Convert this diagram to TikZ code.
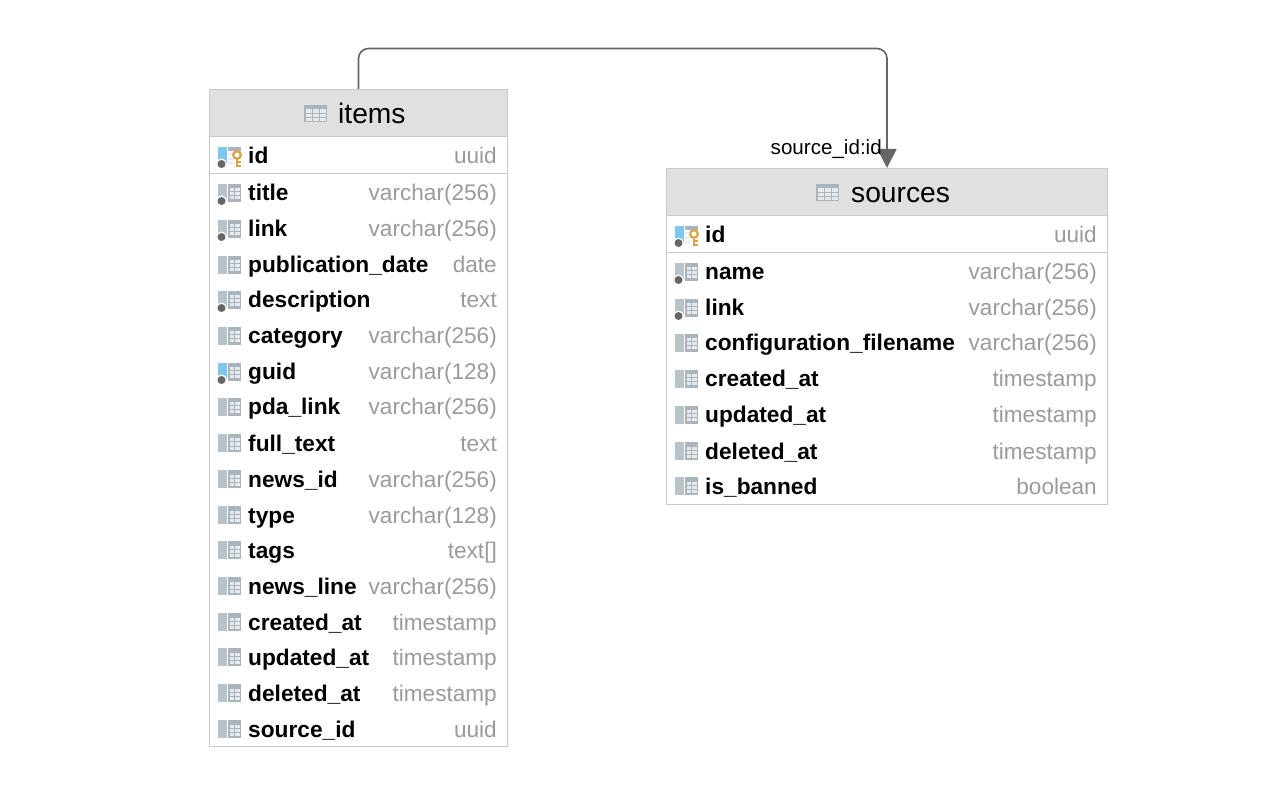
\documentclass[tikz,border=0pt]{standalone}
\usepackage{fontspec}
\setmainfont{Liberation Sans}
\usetikzlibrary{arrows.meta}
\definecolor{hdr}{HTML}{E0E0E0}
\definecolor{bordr}{HTML}{C9C9C9}
\definecolor{icongray}{HTML}{A9B4BD}
\definecolor{iconbar}{HTML}{B8C2C9}
\definecolor{iconpale}{HTML}{E6EAED}
\definecolor{iconblue}{HTML}{7FC6EC}
\definecolor{typegray}{HTML}{9B9B9B}
\definecolor{linegray}{HTML}{666666}
\definecolor{keygold}{HTML}{D9A441}
\tikzset{
  x=1pt,y=-1pt,
  tablebox/.style={draw=bordr,line width=1pt,fill=white,inner sep=0pt,anchor=north west},
  headbox/.style={draw=bordr,line width=1pt,fill=hdr,inner sep=0pt,anchor=north west},
  colname/.style={anchor=base west,inner sep=0pt,font=\fontsize{22.7}{24}\selectfont\bfseries,text=black},
  coltype/.style={anchor=base east,inner sep=0pt,font=\fontsize{22.6}{24}\selectfont,text=typegray},
  title/.style={anchor=base west,inner sep=0pt,font=\fontsize{28.2}{30}\selectfont,text=black},
  rel/.style={draw=linegray,line width=1.6pt,rounded corners=10pt},
  reltip/.style={-{Triangle[width=19pt,length=19pt]}},
  rellabel/.style={anchor=base west,inner sep=0pt,font=\fontsize{20.6}{22}\selectfont,text=black}
}
% column icon: #1 x left, #2 y centre, #3 bar colour, #4 dot?, #5 key?
\newcommand{\colicon}[5]{%
  \fill[#3] (#1,#2-9) rectangle (#1+8.5,#2+9);
  \ifnum#5=1
    \fill[icongray] (#1+10,#2-9) rectangle (#1+23,#2-5);
    \fill[iconpale] (#1+10,#2-2.5) rectangle (#1+15,#2-0.5);
    \fill[iconpale] (#1+10,#2+2) rectangle (#1+15,#2+4);
    \fill[iconpale] (#1+10,#2+6.5) rectangle (#1+15,#2+8.5);
    \draw[white,line width=4.5pt] (#1+19,#2+2) -- (#1+19,#2+11);
    \draw[keygold,line width=2.2pt] (#1+19,#2-1) circle (3.8);
    \draw[keygold,line width=2.8pt] (#1+19,#2+3) -- (#1+19,#2+11);
    \draw[keygold,line width=2pt] (#1+19,#2+10) -- (#1+23,#2+10);
    \draw[keygold,line width=2pt] (#1+19,#2+6.5) -- (#1+22.5,#2+6.5);
  \else
    \fill[icongray] (#1+10,#2-9) rectangle (#1+23,#2+9);
    \fill[iconpale] (#1+12,#2-4.5) rectangle (#1+15.5,#2-1.5);
    \fill[iconpale] (#1+17,#2-4.5) rectangle (#1+22,#2-1.5);
    \fill[iconpale] (#1+12,#2-0.5) rectangle (#1+15.5,#2+2.5);
    \fill[iconpale] (#1+17,#2-0.5) rectangle (#1+22,#2+2.5);
    \fill[iconpale] (#1+12,#2+3.5) rectangle (#1+15.5,#2+6.5);
    \fill[iconpale] (#1+17,#2+3.5) rectangle (#1+22,#2+6.5);
  \fi
  \ifnum#4=1 \fill[white] (#1+3.5,#2+8) circle (5.5); \fill[linegray] (#1+3.5,#2+8) circle (4); \fi
}
\newcommand{\headicon}[2]{%
  \fill[icongray] (#1,#2-9) rectangle (#1+23,#2+8.5);
  \foreach \cx in {0,1,2}{\foreach \cy in {0,1,2}{
    \fill[iconpale] (#1+1.5+\cx*7,#2-4.5+\cy*4.3) rectangle (#1+7.5+\cx*7,#2-1.3+\cy*4.3);
  }}
}
\begin{document}
\begin{tikzpicture}
\useasboundingbox (0,0) rectangle (1262,794);
\fill[white] (0,0) rectangle (1262,794);
% items table
\node[tablebox,minimum width=298pt,minimum height=657pt] (items) at (209,89) {};
\node[headbox,minimum width=298pt,minimum height=47pt] (itemshead) at (209,89) {};
\draw[draw=bordr,line width=1.2pt] (209,173.5) -- (507,173.5);
\headicon{304}{114}
\node[title] (itemstitle) at (338,123.5) {items};
\foreach \n/\y/\nm/\ty/\bar/\dot/\key in {
  1/156/id/uuid/iconblue/1/1,
  2/193/title/varchar(256)/iconbar/1/0,
  3/229/link/varchar(256)/iconbar/1/0,
  4/265/publication\_date/date/iconbar/0/0,
  5/300/description/text/iconbar/1/0,
  6/336/category/varchar(256)/iconbar/0/0,
  7/372/guid/varchar(128)/iconblue/1/0,
  8/407/pda\_link/varchar(256)/iconbar/0/0,
  9/443/full\_text/text/iconbar/0/0,
  10/479/news\_id/varchar(256)/iconbar/0/0,
  11/515/type/varchar(128)/iconbar/0/0,
  12/550/tags/text[]/iconbar/0/0,
  13/586/news\_line/varchar(256)/iconbar/0/0,
  14/622/created\_at/timestamp/iconbar/0/0,
  15/657/updated\_at/timestamp/iconbar/0/0,
  16/693/deleted\_at/timestamp/iconbar/0/0,
  17/729/source\_id/uuid/iconbar/0/0}{
  \colicon{218}{\y}{\bar}{\dot}{\key}
  \node[colname] (iname\n) at (248,\y+8) {\nm};
  \node[coltype] (itype\n) at (497,\y+8) {\ty};
}
% sources table
\node[tablebox,minimum width=441pt,minimum height=336pt] (sources) at (666,168) {};
\node[headbox,minimum width=441pt,minimum height=47pt] (sourceshead) at (666,168) {};
\draw[draw=bordr,line width=1.2pt] (666,252.5) -- (1107,252.5);
\headicon{816}{193}
\node[title] (sourcestitle) at (851,202.5) {sources};
\foreach \n/\y/\nm/\ty/\bar/\dot/\key in {
  1/235/id/uuid/iconblue/1/1,
  2/272/name/varchar(256)/iconbar/1/0,
  3/308/link/varchar(256)/iconbar/1/0,
  4/343/configuration\_filename/varchar(256)/iconbar/0/0,
  5/379/created\_at/timestamp/iconbar/0/0,
  6/415/updated\_at/timestamp/iconbar/0/0,
  7/451/deleted\_at/timestamp/iconbar/0/0,
  8/486/is\_banned/boolean/iconbar/0/0}{
  \colicon{675}{\y}{\bar}{\dot}{\key}
  \node[colname] (sname\n) at (705,\y+8) {\nm};
  \node[coltype] (stype\n) at (1097,\y+8) {\ty};
}
% relation
\coordinate (reltop) at (623,48.5);
\draw[rel,reltip] (items.north) -- (items.north |- reltop) -- (sources.north |- reltop) -- (sources.north);
\node[rellabel] (rellab) at (770.5,154.5) {source\_id:id};
\end{tikzpicture}
\end{document}
